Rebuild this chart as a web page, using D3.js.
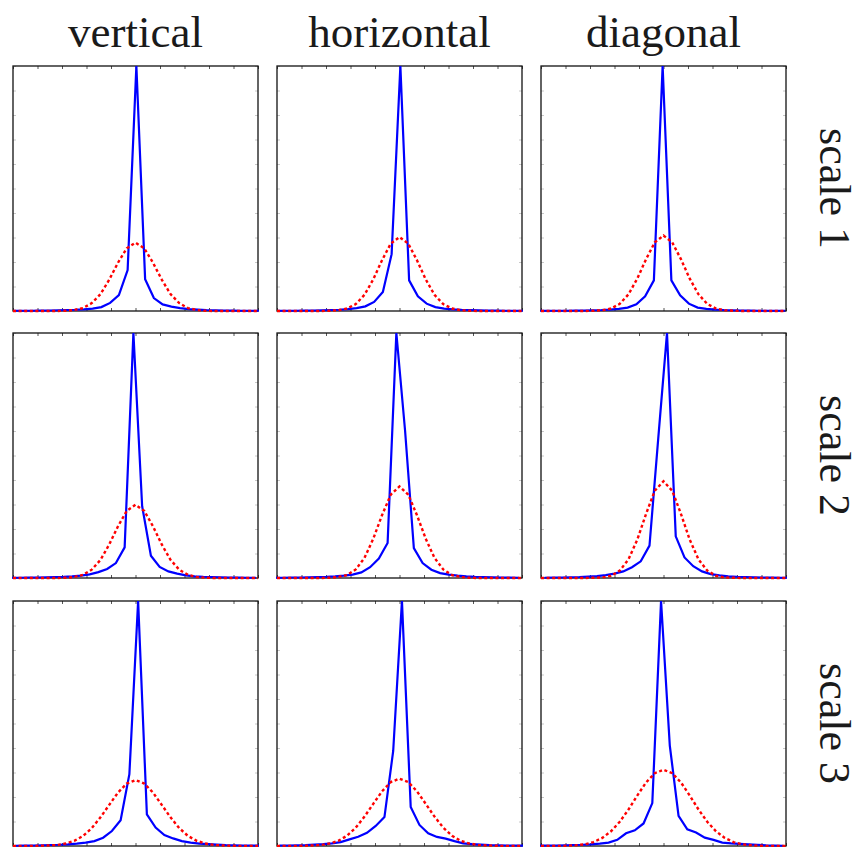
<!DOCTYPE html>
<html>
<head>
<meta charset="utf-8">
<script src="https://cdn.jsdelivr.net/npm/d3@7"></script>
<style>
  body { margin: 0; background: #fff; }
  svg { display: block; }
</style>
</head>
<body>
<svg id="chart"></svg>
<script>
const width = 861,
  height = 847;

// Column titles and row labels
const columns = ["vertical", "horizontal", "diagonal"];
const rows = ["scale 1", "scale 2", "scale 3"];

// Bin centres shared by all panels
const bins = [-14, -13, -12, -11, -10, -9, -8, -7, -6, -5, -4, -3, -2, -1, 0,
  1, 2, 3, 4, 5, 6, 7, 8, 9, 10, 11, 12, 13, 14];
const xTicks = [-14, -11.2, -8.4, -5.6, -2.8, 0, 2.8, 5.6, 8.4, 11.2, 14];
const yTicks = [0, 0.1, 0.2, 0.3, 0.4, 0.5, 0.6, 0.7, 0.8, 0.9, 1];

// Small offset of the measured histogram's bins in each panel (row by row)
const blueShift = [0.1, 0.1, -0.1, -0.24, -0.36, 0.4, 0.3, 0.28, -0.28];

// Measured histograms (solid blue), normalised to the panel's peak
const blueV1 = [.001,.001,.001,.002,.002,.003,.004,.005,.007,.010,.016,.033,.065,.167,1,
  .130,.053,.027,.018,.012,.008,.006,.004,.003,.002,.002,.001,.001,.001];
const blueH1 = [.001,.001,.001,.002,.002,.003,.004,.005,.008,.012,.019,.037,.078,.232,1,
  .125,.060,.030,.016,.010,.007,.005,.004,.003,.002,.002,.001,.001,.001];
const blueD1 = [.001,.001,.001,.001,.002,.002,.003,.004,.006,.009,.014,.027,.060,.125,1,
  .125,.064,.030,.014,.009,.006,.004,.003,.002,.002,.001,.001,.001,.001];
const blueV2 = [.001,.001,.002,.002,.003,.004,.005,.007,.010,.015,.024,.037,.061,.125,1,
  .293,.091,.045,.027,.018,.011,.007,.005,.004,.003,.002,.002,.001,.001];
const blueH2 = [.001,.001,.002,.002,.003,.004,.005,.007,.010,.014,.023,.044,.079,.143,1,
  .600,.122,.061,.034,.020,.014,.010,.007,.005,.004,.003,.002,.002,.001];
const blueD2 = [.001,.002,.002,.003,.004,.006,.008,.012,.018,.027,.044,.068,.132,.570,1,
  .170,.084,.048,.027,.016,.011,.007,.005,.004,.003,.002,.002,.001,.001];
const blueV3 = [.001,.002,.002,.003,.004,.005,.007,.010,.014,.020,.034,.061,.105,.293,1,
  .129,.075,.045,.031,.020,.014,.010,.008,.006,.004,.003,.002,.002,.001];
const blueH3 = [.002,.002,.003,.004,.006,.008,.011,.016,.027,.038,.054,.082,.118,.388,1,
  .159,.086,.052,.037,.030,.020,.011,.008,.006,.004,.003,.002,.002,.001];
const blueD3 = [.001,.002,.002,.003,.004,.005,.007,.010,.014,.025,.052,.064,.092,.175,1,
  .410,.123,.068,.055,.034,.025,.014,.011,.009,.007,.005,.003,.002,.001];

// Gaussian fits (dotted red), same normalisation
const redV1 = [0,0,0,0,0,0,.001,.004,.012,.032,.069,.128,.197,.256,.279,
  .256,.197,.128,.069,.032,.012,.004,.001,0,0,0,0,0,0];
const redH1 = [0,0,0,0,0,0,.001,.003,.010,.028,.066,.129,.207,.275,.302,
  .275,.207,.129,.066,.028,.010,.003,.001,0,0,0,0,0,0];
const redD1 = [0,0,0,0,0,0,.001,.003,.010,.029,.068,.132,.211,.280,.308,
  .280,.211,.132,.068,.029,.010,.003,.001,0,0,0,0,0,0];
const redV2 = [0,0,0,0,0,0,.001,.004,.013,.034,.074,.137,.211,.274,.299,
  .274,.211,.137,.074,.034,.013,.004,.001,0,0,0,0,0,0];
const redH2 = [0,0,0,0,0,0,.001,.004,.012,.035,.082,.160,.256,.340,.374,
  .340,.256,.160,.082,.035,.012,.004,.001,0,0,0,0,0,0];
const redD2 = [0,0,0,0,0,0,.001,.002,.009,.030,.076,.156,.261,.356,.395,
  .356,.261,.156,.076,.030,.009,.002,.001,0,0,0,0,0,0];
const redV3 = [0,0,0,.001,.002,.004,.010,.021,.041,.073,.117,.168,.218,.255,.269,
  .255,.218,.168,.117,.073,.041,.021,.010,.004,.002,.001,0,0,0];
const redH3 = [0,0,0,.001,.002,.004,.010,.021,.042,.075,.120,.172,.223,.261,.275,
  .261,.223,.172,.120,.075,.042,.021,.010,.004,.002,.001,0,0,0];
const redD3 = [0,0,0,.001,.003,.007,.016,.033,.060,.099,.149,.206,.259,.297,.311,
  .297,.259,.206,.149,.099,.060,.033,.016,.007,.003,.001,0,0,0];

const blueSeries = [blueV1, blueH1, blueD1, blueV2, blueH2, blueD2, blueV3, blueH3, blueD3];
const redSeries = [redV1, redH1, redD1, redV2, redH2, redD2, redV3, redH3, redD3];

// Layout
const colX = [13, 277, 541];
const rowY = [66, 333, 601];
const pw = 245,
  ph = 245;

const svg = d3.select("#chart").attr("width", width).attr("height", height);

const x = d3.scaleLinear().domain([-14, 14]).range([0, pw]);
const y = d3.scaleLinear().domain([0, 1]).range([ph, 0]);

const line = d3
  .line()
  .x((d) => x(d[0]))
  .y((d) => y(d[1]));

// Column titles
svg
  .selectAll(".title")
  .data(columns)
  .join("text")
  .attr("class", "title")
  .attr("x", (d, i) => colX[i] + pw / 2)
  .attr("y", 47)
  .attr("text-anchor", "middle")
  .style("font-family", "'Liberation Serif', 'Times New Roman', serif")
  .style("font-size", "45px")
  .style("fill", "#1a1a1a")
  .text((d) => d);

// Row labels, rotated so they read top to bottom
svg
  .selectAll(".rowlabel")
  .data(rows)
  .join("text")
  .attr("class", "rowlabel")
  .attr("transform", (d, i) => `translate(820,${rowY[i] + ph / 2}) rotate(90)`)
  .attr("text-anchor", "middle")
  .style("font-family", "'Liberation Serif', 'Times New Roman', serif")
  .style("font-size", "44px")
  .style("fill", "#1a1a1a")
  .text((d) => d);

rows.forEach((r, ri) => {
  columns.forEach((c, ci) => {
    const k = ri * 3 + ci;
    const g = svg
      .append("g")
      .attr("transform", `translate(${colX[ci]},${rowY[ri]})`);

    g.append("clipPath")
      .attr("id", "clip" + k)
      .append("rect")
      .attr("x", -1)
      .attr("y", 0)
      .attr("width", pw + 2)
      .attr("height", ph + 2);

    // Inward ticks on all four sides, no labels
    const ticksX = (axis, ty) =>
      g.append("g")
        .attr("transform", `translate(0,${ty})`)
        .call(axis(x).tickValues(xTicks).tickSize(-3).tickFormat(""))
        .call((s) => s.select(".domain").remove())
        .call((s) => s.selectAll("line").attr("stroke", "#555"));
    ticksX(d3.axisBottom, ph);
    ticksX(d3.axisTop, 0);

    const ticksY = (axis, tx) =>
      g.append("g")
        .attr("transform", `translate(${tx},0)`)
        .call(axis(y).tickValues(yTicks).tickSize(-3).tickFormat(""))
        .call((s) => s.select(".domain").remove())
        .call((s) => s.selectAll("line").attr("stroke", "#c8c8c8"));
    ticksY(d3.axisLeft, 0);
    ticksY(d3.axisRight, pw);

    // Frame
    g.append("rect")
      .attr("width", pw)
      .attr("height", ph)
      .attr("fill", "none")
      .attr("stroke", "#111")
      .attr("stroke-width", 1.3);

    const plot = g.append("g").attr("clip-path", `url(#clip${k})`);

    const blue = bins.map((b, i) => [b + blueShift[k], blueSeries[k][i]]);
    const red = bins.map((b, i) => [b, redSeries[k][i]]);

    plot.append("path")
      .attr("d", line(blue))
      .attr("fill", "none")
      .attr("stroke", "#0000ff")
      .attr("stroke-width", 2.2);

    plot.append("path")
      .attr("d", line(red))
      .attr("fill", "none")
      .attr("stroke", "#ff0000")
      .attr("stroke-width", 2.4)
      .attr("stroke-dasharray", "3,2.6");
  });
});
</script>
</body>
</html>
